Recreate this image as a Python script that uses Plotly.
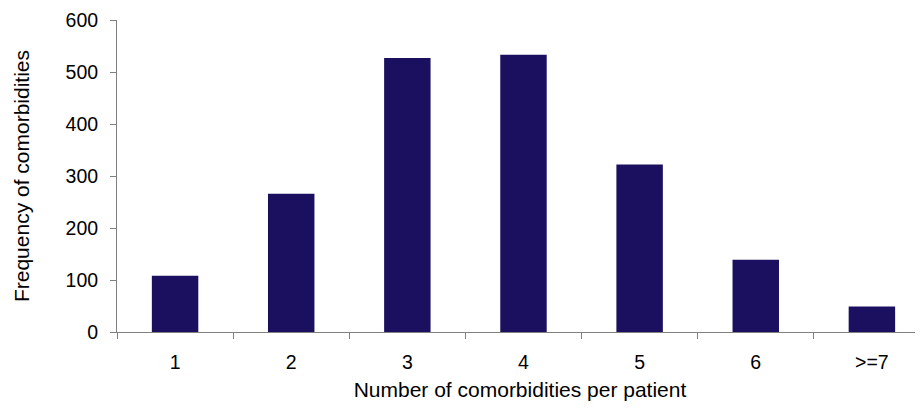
import plotly.graph_objects as go

categories = ["1", "2", "3", "4", "5", "6", ">=7"]
frequency = [108, 266, 527, 533, 322, 139, 49]

BAR_COLOR = "#1b1060"
AXIS_COLOR = "#808080"
FAMILY = "Liberation Sans, Arial, sans-serif"
TICK_FONT = dict(family=FAMILY, size=19.5, color="#000000")
TITLE_FONT = dict(family=FAMILY, size=21, color="#000000")

fig = go.Figure(
    go.Bar(
        x=categories,
        y=frequency,
        marker=dict(color=BAR_COLOR, line=dict(width=0)),
    )
)

# the page body adds an 8px margin, so the figure is sized to the visible area
fig.update_layout(
    width=915,
    height=400,
    margin=dict(l=109, r=0, t=12, b=76),
    paper_bgcolor="white",
    plot_bgcolor="white",
    font=TICK_FONT,
    bargap=0.6,
    showlegend=False,
)

fig.update_xaxes(
    type="category",
    range=[-0.5, 6.44],
    automargin=False,
    showline=True,
    linecolor=AXIS_COLOR,
    linewidth=1,
    ticks="outside",
    tickson="boundaries",
    ticklen=6,
    tickcolor=AXIS_COLOR,
    tickfont=TICK_FONT,
    ticklabelstandoff=13,
    showgrid=False,
    title=dict(text="Number of comorbidities per patient", font=TITLE_FONT, standoff=9),
)

fig.update_yaxes(
    range=[0, 600],
    dtick=100,
    automargin=False,
    showline=True,
    linecolor=AXIS_COLOR,
    linewidth=1,
    ticks="outside",
    ticklen=6,
    tickcolor=AXIS_COLOR,
    tickfont=TICK_FONT,
    ticklabelstandoff=8,
    showgrid=False,
    zeroline=False,
    title=dict(text="Frequency of comorbidities", font=TITLE_FONT, standoff=30),
)

fig.write_html("out.html")
